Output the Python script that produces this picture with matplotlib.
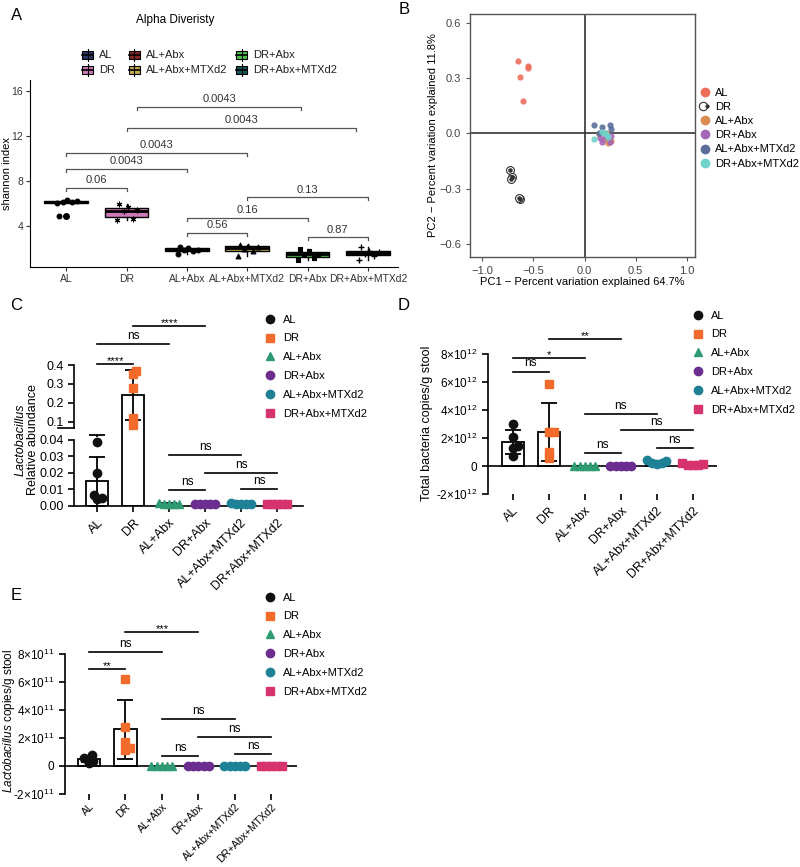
import numpy as np
import matplotlib
matplotlib.use('Agg')
import matplotlib.pyplot as plt
from matplotlib.patches import Rectangle
from matplotlib.lines import Line2D
from matplotlib.legend_handler import HandlerTuple

plt.rcParams['font.family'] = ['Liberation Sans', 'DejaVu Sans']
plt.rcParams['mathtext.fontset'] = 'custom'
plt.rcParams['mathtext.rm'] = 'Liberation Sans'
plt.rcParams['mathtext.it'] = 'Liberation Sans:italic'
plt.rcParams['mathtext.bf'] = 'Liberation Sans:bold'

# ---------------- data ----------------
# Panel A (shannon index)
A_groups = ['AL', 'DR', 'AL+Abx', 'AL+Abx+MTXd2', 'DR+Abx', 'DR+Abx+MTXd2']
shannon_AL = [6.05, 6.1, 6.15, 6.2, 6.35, 4.9]
shannon_DR = [4.5, 4.6, 5.3, 5.4, 5.7, 6.0]
shannon_AL_Abx = [1.5, 1.75, 1.85, 1.9, 2.05, 2.1]
shannon_AL_Abx_MTX = [1.35, 1.75, 1.95, 2.1, 2.25, 2.3]
shannon_DR_Abx = [1.0, 1.2, 1.45, 1.55, 1.8, 2.0]
shannon_DR_Abx_MTX = [1.0, 1.35, 1.5, 1.65, 1.8, 2.1]
A_pvals = ['0.06', '0.0043', '0.0043', '0.0043', '0.0043', '0.56', '0.16', '0.13', '0.87']
A_pairs = [(0, 1), (0, 2), (0, 3), (1, 4.8), (1.17, 3.9), (2, 3), (2, 4), (3, 5), (4, 5)]
A_bracket_y = [7.4, 9.07, 10.5, 12.7, 14.6, 3.4, 4.7, 6.55, 3.0]

# Panel B (PCoA)
B_groups = ['AL', 'DR', 'AL+Abx', 'DR+Abx', 'AL+Abx+MTXd2', 'DR+Abx+MTXd2']
pc1_AL = [-0.65, -0.55, -0.555, -0.63, -0.60]
pc2_AL = [0.396, 0.366, 0.357, 0.307, 0.178]
pc1_DR = [-0.73, -0.71, -0.72, -0.63, -0.64]
pc2_DR = [-0.20, -0.236, -0.25, -0.354, -0.35]
pc1_AL_Abx = [0.225, 0.19, 0.14, 0.255, 0.205]
pc2_AL_Abx = [-0.05, -0.03, -0.005, -0.04, 0.005]
pc1_DR_Abx = [0.17, 0.245, 0.205, 0.15, 0.26]
pc2_DR_Abx = [-0.045, -0.045, -0.02, -0.027, -0.015]
pc1_AL_Abx_MTX = [0.095, 0.167, 0.245, 0.255, 0.14]
pc2_AL_Abx_MTX = [0.044, 0.037, 0.044, 0.027, 0.0]
pc1_DR_Abx_MTX = [0.09, 0.2, 0.215, 0.17, 0.225]
pc2_DR_Abx_MTX = [-0.03, 0.0, -0.01, 0.01, -0.02]

# Panels C-E (bar + scatter)
bar_groups = ['AL', 'DR', 'AL+Abx', 'DR+Abx', 'AL+Abx+MTXd2', 'DR+Abx+MTXd2']
relab_AL = [0.039, 0.020, 0.0067, 0.0045, 0.005]
relab_DR = [0.369, 0.351, 0.28, 0.12, 0.082]
relab_AL_Abx = [0.0012, 0.0015, 0.0018, 0.0010, 0.0014]
relab_DR_Abx = [0.0012, 0.0013, 0.0014, 0.0011, 0.0012]
relab_AL_Abx_MTX = [0.0013, 0.0016, 0.0012, 0.0011, 0.0015]
relab_DR_Abx_MTX = [0.0010, 0.0011, 0.0012, 0.0010, 0.0011]
C_sig = [(0, 1, 0.405, '****'), (0, 2, 0.51, 'ns'), (1, 3, 0.606, '****'),
         (2, 4, 0.0309, 'ns'), (3, 5, 0.020, 'ns'), (2, 3, 0.0097, 'ns'), (4, 5, 0.0103, 'ns')]

total_AL = [3.0e12, 2.1e12, 1.4e12, 1.3e12, 0.75e12]
total_DR = [5.85e12, 2.42e12, 2.42e12, 1.0e12, 0.6e12]
total_AL_Abx = [0.02e12, 0.01e12, 0.02e12, 0.01e12, 0.02e12]
total_DR_Abx = [0.01e12, 0.01e12, 0.02e12, 0.01e12, 0.01e12]
total_AL_Abx_MTX = [0.35e12, 0.25e12, 0.4e12, 0.2e12, 0.15e12]
total_DR_Abx_MTX = [0.2e12, 0.1e12, 0.15e12, 0.05e12, 0.1e12]
D_sig = [(1, 3, 9.04e12, '**'), (0, 2, 7.7e12, '*'), (0, 1, 6.75e12, 'ns'),
         (2, 4, 3.74e12, 'ns'), (3, 5, 2.56e12, 'ns'), (2, 3, 0.9e12, 'ns'), (4, 5, 1.3e12, 'ns')]

lacto_AL = [0.79e11, 0.6e11, 0.52e11, 0.36e11, 0.19e11]
lacto_DR = [6.19e11, 2.79e11, 1.71e11, 1.31e11, 1.12e11]
lacto_AL_Abx = [0.005e11, 0.006e11, 0.004e11, 0.005e11, 0.006e11]
lacto_DR_Abx = [0.005e11, 0.005e11, 0.006e11, 0.004e11, 0.005e11]
lacto_AL_Abx_MTX = [0.006e11, 0.005e11, 0.007e11, 0.005e11, 0.006e11]
lacto_DR_Abx_MTX = [0.005e11, 0.004e11, 0.005e11, 0.006e11, 0.005e11]
E_sig = [(1, 3, 9.6e11, '***'), (0, 2, 8.14e11, 'ns'), (0, 1, 6.9e11, '**'),
         (2, 4, 3.33e11, 'ns'), (3, 5, 2.07e11, 'ns'), (2, 3, 0.71e11, 'ns'), (4, 5, 0.83e11, 'ns')]

# ---------------- styles ----------------
A_colors = ['#27355e', '#cc79b8', '#8a2424', '#c4aa48', '#4dbf4d', '#11585a']
A_markers = ['o', (6, 2, 0), 'o', '^', 's', '+']
A_jitter = [-0.15, 0.1, -0.05, 0.18, 0.02, -0.12]
B_colors = ['#ee6e5c', '#333333', '#d98b52', '#a466b8', '#5a6d9a', '#6fd3c9']
bar_colors = ['#111111', '#f26b2a', '#2e9b73', '#6b2d90', '#1f8196', '#d6336e']
bar_markers = ['o', 's', '^', 'o', 'o', 's']

W, H = 800, 867
fig = plt.figure(figsize=(W / 100, H / 100), dpi=100)


def add_ax(x0, y0, x1, y1):
    return fig.add_axes([x0 / W, 1 - y1 / H, (x1 - x0) / W, (y1 - y0) / H])


def fx(x):
    return x / W


def fy(y):
    return 1 - y / H


# panel letters
for lab, (x, y) in {'A': (17, 16), 'B': (404, 9), 'C': (16, 305), 'D': (404, 305), 'E': (16, 595)}.items():
    fig.text(fx(x), fy(y), lab, fontsize=12, ha='center', va='center')

# ================= Panel A =================
axA = add_ax(30, 80, 398, 267)
A_data = [shannon_AL, shannon_DR, shannon_AL_Abx, shannon_AL_Abx_MTX, shannon_DR_Abx, shannon_DR_Abx_MTX]
bp = axA.boxplot(A_data, positions=range(6), widths=0.72, patch_artist=True, showcaps=False,
                 flierprops=dict(marker='o', markerfacecolor='black', markeredgecolor='black', markersize=4),
                 medianprops=dict(color='black', lw=2),
                 boxprops=dict(edgecolor='black', lw=1),
                 whiskerprops=dict(color='black', lw=1))
for patch, c in zip(bp['boxes'], A_colors):
    patch.set_facecolor(c)
for i, vals in enumerate(A_data):
    xs = [i + A_jitter[k % len(A_jitter)] for k in range(len(vals))]
    m = A_markers[i]
    if m == '+':
        axA.scatter(xs, vals, marker=m, color='black', s=22, lw=1, zorder=4)
    else:
        axA.scatter(xs, vals, marker=m, color='black', s=12, lw=0.8, zorder=4)
axA.set_xlim(-0.6, 5.5)
axA.set_ylim(0.36, 16.98)
axA.set_yticks([4, 8, 12, 16])
axA.set_xticks(range(6))
axA.set_xticklabels(A_groups, fontsize=7.5)
axA.tick_params(axis='both', length=3, width=0.8, color='#333333', labelcolor='#333333', pad=2)
axA.tick_params(axis='y', labelsize=7.5)
axA.spines['top'].set_visible(False)
axA.spines['right'].set_visible(False)
fig.text(fx(7), fy(173), 'shannon index', rotation=90, fontsize=8, ha='center', va='center')
tipA = 0.27
for (a, b), yv, lab in zip(A_pairs, A_bracket_y, A_pvals):
    axA.plot([a, a, b, b], [yv - tipA, yv, yv, yv - tipA], color='#555555', lw=0.9, clip_on=False)
    axA.annotate(lab, ((a + b) / 2, yv), xytext=(0, 2), textcoords='offset points',
                 ha='center', va='bottom', fontsize=8, color='#333333')
fig.text(fx(175), fy(20), 'Alpha Diveristy', fontsize=8.5, ha='center', va='center')
# legend (manual, ggplot style boxplot keys)
key_cols = [87.5, 134, 241.5]
key_rows = [55, 70]
for i, (g, c) in enumerate(zip(A_groups, A_colors)):
    cx, cy = key_cols[i // 2], key_rows[i % 2]
    fig.add_artist(Line2D([fx(cx), fx(cx)], [fy(cy - 6), fy(cy + 6)], color='black', lw=0.8))
    fig.add_artist(Rectangle((fx(cx - 5.5), fy(cy + 4)), 11 / W, 8 / H, facecolor=c, edgecolor='black', lw=0.8))
    fig.add_artist(Line2D([fx(cx - 5.5), fx(cx + 5.5)], [fy(cy), fy(cy)], color='black', lw=1.2))
    fig.text(fx(cx + 11.5), fy(cy), g, fontsize=8, ha='left', va='center', color='#222222')

# ================= Panel B =================
axB = add_ax(470, 14, 695, 257)
B_x = [pc1_AL, pc1_DR, pc1_AL_Abx, pc1_DR_Abx, pc1_AL_Abx_MTX, pc1_DR_Abx_MTX]
B_y = [pc2_AL, pc2_DR, pc2_AL_Abx, pc2_DR_Abx, pc2_AL_Abx_MTX, pc2_DR_Abx_MTX]
handlesB = []
for i, g in enumerate(B_groups):
    if g == 'DR':
        axB.scatter(B_x[i], B_y[i], s=32, facecolors='white', edgecolors='#333333', lw=0.8, zorder=3)
        axB.scatter(B_x[i], B_y[i], s=5, color='#333333', zorder=4)
        h1 = Line2D([], [], ls='none', marker='o', ms=6, mfc='white', mec='#333333', mew=0.8)
        h2 = Line2D([], [], ls='none', marker='o', ms=2, color='#333333')
        handlesB.append((h1, h2))
    else:
        axB.scatter(B_x[i], B_y[i], s=20, color=B_colors[i], alpha=0.9, lw=0, zorder=3)
        handlesB.append(Line2D([], [], ls='none', marker='o', ms=6, color=B_colors[i]))
axB.axhline(0, color='#333333', lw=1.2, zorder=1)
axB.axvline(0, color='#333333', lw=1.2, zorder=1)
axB.set_xlim(-1.12, 1.08)
axB.set_ylim(-0.671, 0.649)
axB.set_xticks([-1.0, -0.5, 0.0, 0.5, 1.0])
axB.set_yticks([-0.6, -0.3, 0.0, 0.3, 0.6])
axB.tick_params(labelsize=8, length=3, width=0.8, color='#555555', labelcolor='#444444')
for s in axB.spines.values():
    s.set_color('#555555')
    s.set_linewidth(1)
axB.set_xlabel('PC1 \u2212 Percent variation explained 64.7%', fontsize=8, labelpad=1)
axB.set_ylabel('PC2 \u2212 Percent variation explained 11.8%', fontsize=8, labelpad=1)
fig.legend(handlesB, B_groups, loc='upper left', bbox_to_anchor=(fx(700.5), fy(87.6)),
           frameon=False, fontsize=8, handlelength=0.8, handletextpad=0.5, labelspacing=0.38,
           borderpad=0, borderaxespad=0, handler_map={tuple: HandlerTuple(ndivide=None, pad=0)})


# ================= helpers for C-E =================
def swarm_offsets(ax, x0, ys, dpx, allow=0.55):
    ys = np.asarray(ys, dtype=float)
    disp = ax.transData.transform(np.column_stack([np.full(len(ys), float(x0)), ys]))
    ppu = ax.transData.transform([[1.0, 0.0]])[0][0] - ax.transData.transform([[0.0, 0.0]])[0][0]
    placed = []
    offs = np.zeros(len(ys))
    step = dpx * 0.125
    for i in np.argsort(ys):
        py = disp[i, 1]
        best = None
        for k in range(0, 200):
            for sgn in ([0] if k == 0 else [1, -1]):
                cand = sgn * k * step
                if all((cand - qx) ** 2 + (py - qy) ** 2 >= (dpx * allow) ** 2 for qx, qy in placed):
                    best = cand
                    break
            if best is not None:
                break
        placed.append((best, py))
        offs[i] = best / ppu
    return offs


MS = 6
DPX = MS * 100 / 72


def draw_bars(ax, datas):
    for i, vals in enumerate(datas):
        m = np.mean(vals)
        sd = np.std(vals, ddof=1)
        ax.bar(i, m, width=0.62, fill=False, edgecolor='black', lw=1.3, zorder=2)
        ax.errorbar(i, m, yerr=sd, color='black', lw=1.3, capsize=6, capthick=1.3, zorder=3)


def draw_points(ax, i, vals, color, marker):
    offs = swarm_offsets(ax, i, vals, DPX)
    ax.plot(np.array(offs) + i, vals, ls='none', marker=marker, color=color, ms=MS, zorder=5, clip_on=False)


def draw_sig(ax, sigs, fs_ns=8.5):
    for a, b, yv, lab in sigs:
        ax.plot([a, b], [yv, yv], color='black', lw=1.2, clip_on=False, zorder=6)
        if lab == 'ns':
            ax.annotate(lab, ((a + b) / 2, yv), xytext=(0, 1.5), textcoords='offset points',
                        ha='center', va='bottom', fontsize=fs_ns, annotation_clip=False)
        else:
            ax.annotate(lab, ((a + b) / 2, yv), xytext=(0, -1.5), textcoords='offset points',
                        ha='center', va='bottom', fontsize=8, annotation_clip=False)


def style_bar_ax(ax):
    ax.spines['top'].set_visible(False)
    ax.spines['right'].set_visible(False)
    for s in ax.spines.values():
        s.set_linewidth(1.2)
    ax.tick_params(labelsize=9, length=4, width=1.2, direction='out')


def bar_legend(x_marker, y_first):
    handles = [Line2D([], [], ls='none', marker=m, color=c, ms=MS) for m, c in zip(bar_markers, bar_colors)]
    fig.legend(handles, bar_groups, loc='upper left',
               bbox_to_anchor=(fx(x_marker - 5.5), fy(y_first - 6.4)),
               frameon=False, fontsize=8, handlelength=1.0, handletextpad=0.67, labelspacing=0.8,
               borderpad=0, borderaxespad=0)


def xlabels_rot(ax, fs=9):
    ax.set_xticks(range(6))
    ax.set_xticklabels(bar_groups, rotation=45, ha='right', rotation_mode='anchor', fontsize=fs)


def sci_labels(exp):
    labs = []
    for v in [-2, 0, 2, 4, 6, 8]:
        if v == 0:
            labs.append('0')
        else:
            labs.append('%d' % v + r'$\times$' + '10' + r'$^{%d}$' % exp)
    return labs


# ================= Panel C (broken axis) =================
C_data = [relab_AL, relab_DR, relab_AL_Abx, relab_DR_Abx, relab_AL_Abx_MTX, relab_DR_Abx_MTX]
axCl = add_ax(74, 437, 303, 506)
axCu = add_ax(74, 365, 303, 437)
for ax in (axCl, axCu):
    ax.set_xlim(-0.64, 5.72)
axCl.set_ylim(0, 0.0418)
axCu.set_ylim(0.021, 0.4)
for ax in (axCl, axCu):
    draw_bars(ax, C_data)
    style_bar_ax(ax)
for i, vals in enumerate(C_data):
    v = np.asarray(vals)
    lo, hi = v[v < 0.05], v[v >= 0.05]
    if len(lo):
        draw_points(axCl, i, lo, bar_colors[i], bar_markers[i])
    if len(hi):
        draw_points(axCu, i, hi, bar_colors[i], bar_markers[i])
axCu.spines['bottom'].set_visible(False)
axCu.set_xticks([])
axCu.spines['left'].set_bounds(0.068, 0.4)
axCu.set_yticks([0.1, 0.2, 0.3, 0.4])
axCu.set_yticklabels(['0.1', '0.2', '0.3', '0.4'])
axCl.spines['left'].set_bounds(0, 0.04)
axCl.set_yticks([0, 0.01, 0.02, 0.03, 0.04])
axCl.set_yticklabels(['0.00', '0.01', '0.02', '0.03', '0.04'])
xlabels_rot(axCl)
# break mark
axCu.plot([-0.64 - 0.45, -0.64], [0.068, 0.068], color='black', lw=1.2, clip_on=False)
draw_sig(axCu, [s for s in C_sig if s[2] > 0.05])
draw_sig(axCl, [s for s in C_sig if s[2] <= 0.05])
fig.text(fx(21), fy(440), 'Lactobacillus', rotation=90, fontsize=9, style='italic', ha='center', va='center')
fig.text(fx(33), fy(440), 'Relative abundance', rotation=90, fontsize=9, ha='center', va='center')
bar_legend(270, 321)

# ================= Panel D =================
D_data = [total_AL, total_DR, total_AL_Abx, total_DR_Abx, total_AL_Abx_MTX, total_DR_Abx_MTX]
axD = add_ax(488, 354, 717, 494)
axD.set_xlim(-0.69, 5.67)
axD.set_ylim(-2e12, 8e12)
draw_bars(axD, D_data)
style_bar_ax(axD)
axD.spines['bottom'].set_visible(False)
axD.axhline(0, color='black', lw=1.2, zorder=1)
for i, vals in enumerate(D_data):
    draw_points(axD, i, vals, bar_colors[i], bar_markers[i])
axD.set_yticks([-2e12, 0, 2e12, 4e12, 6e12, 8e12])
axD.set_yticklabels(sci_labels(12))
axD.tick_params(axis='y', labelsize=8.5)
xlabels_rot(axD)
draw_sig(axD, D_sig)
fig.text(fx(427), fy(423), 'Total bacteria copies/g stool', rotation=90, fontsize=9, ha='center', va='center')
bar_legend(698, 317)

# ================= Panel E =================
E_data = [lacto_AL, lacto_DR, lacto_AL_Abx, lacto_DR_Abx, lacto_AL_Abx_MTX, lacto_DR_Abx_MTX]
axE = add_ax(65, 654, 297, 794)
axE.set_xlim(-0.66, 5.71)
axE.set_ylim(-2e11, 8e11)
draw_bars(axE, E_data)
style_bar_ax(axE)
axE.spines['bottom'].set_visible(False)
axE.axhline(0, color='black', lw=1.2, zorder=1)
for i, vals in enumerate(E_data):
    draw_points(axE, i, vals, bar_colors[i], bar_markers[i])
axE.set_yticks([-2e11, 0, 2e11, 4e11, 6e11, 8e11])
axE.set_yticklabels(sci_labels(11))
axE.tick_params(axis='y', labelsize=8.5)
xlabels_rot(axE, fs=7.5)
axE.tick_params(axis='x', pad=1.5)
draw_sig(axE, E_sig)
fig.text(fx(9), fy(721), r'$\mathit{Lactobacillus}$ copies/g stool', rotation=90, fontsize=8.5,
         ha='center', va='center')
bar_legend(270, 599)

fig.savefig('out.png', dpi=100)
